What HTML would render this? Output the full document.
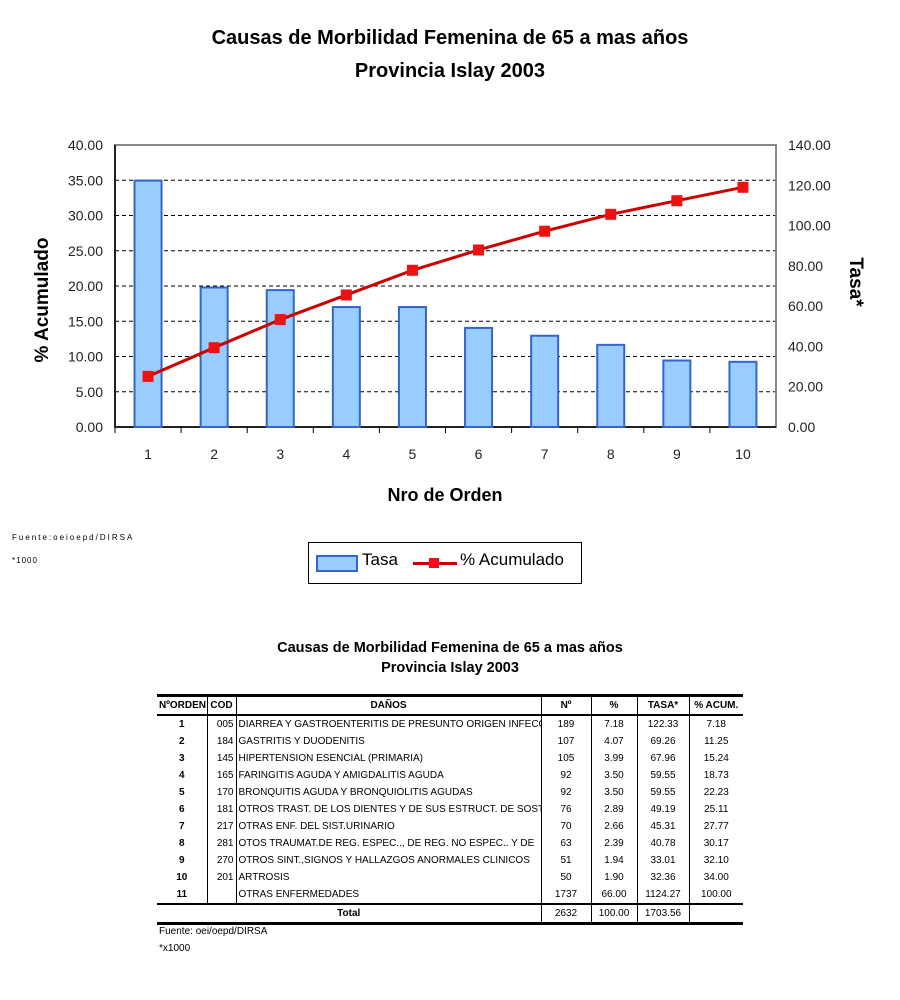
<!DOCTYPE html>
<html><head><meta charset="utf-8"><style>
body{margin:0;width:900px;height:1000px;background:#fff;position:relative;font-family:"Liberation Sans",Arial,sans-serif;overflow:hidden}
.t{position:absolute;white-space:nowrap}
table{position:absolute;left:157px;top:694px;width:586px;border-collapse:collapse;font-size:10px;table-layout:fixed}
td{height:17px;padding:0;padding-left:2px;padding-right:2px;line-height:16px;white-space:nowrap;overflow:hidden}
.b{border-left:1px solid #000}
.r{text-align:right}.c{text-align:center}
</style></head><body>
<div class="t" style="left:0;width:900px;text-align:center;top:27px;font-size:20px;font-weight:bold">Causas de Morbilidad Femenina de 65 a mas años</div>
<div class="t" style="left:0;width:900px;text-align:center;top:60px;font-size:20px;font-weight:bold">Provincia Islay 2003</div>
<svg id="chart" width="900" height="520" style="position:absolute;left:0;top:0"></svg>
<div class="t" style="left:12px;top:533px;font-size:8px;letter-spacing:2px">Fuente:oeioepd/DIRSA</div>
<div class="t" style="left:12px;top:556px;font-size:8px;letter-spacing:1px">*1000</div>
<div style="position:absolute;left:308px;top:542px;width:272px;height:40px;border:1px solid #000">
 <div style="position:absolute;left:7px;top:12px;width:38px;height:13px;background:#99ccff;border:2px solid #3366cc"></div>
 <div class="t" style="left:53px;top:7px;font-size:17px">Tasa</div>
 <div style="position:absolute;left:104px;top:19px;width:44px;height:3px;background:#cc0000"></div>
 <div style="position:absolute;left:120px;top:15px;width:10px;height:10px;background:#ee1111"></div>
 <div class="t" style="left:151px;top:7px;font-size:17px">% Acumulado</div>
</div>
<div class="t" style="left:0;width:900px;text-align:center;top:640px;font-size:14.5px;font-weight:bold">Causas de Morbilidad Femenina de 65 a mas años</div>
<div class="t" style="left:0;width:900px;text-align:center;top:660px;font-size:14.5px;font-weight:bold">Provincia Islay 2003</div>
<table id="tbl">
<colgroup><col style="width:50px"><col style="width:29px"><col style="width:305px"><col style="width:50px"><col style="width:46px"><col style="width:52px"><col style="width:54px"></colgroup>
<tr style="font-weight:bold;border-top:3px solid #000;border-bottom:2px solid #000"><td class="c">NºORDEN</td><td class="b c">COD</td><td class="b c">DAÑOS</td><td class="b c">Nº</td><td class="b c">%</td><td class="b c">TASA*</td><td class="b c">% ACUM.</td></tr>
</table>
<div class="t" style="left:159px;top:926px;font-size:10px">Fuente: oei/oepd/DIRSA</div>
<div class="t" style="left:159px;top:943px;font-size:10px">*x1000</div>
<script>
const categories=["1","2","3","4","5","6","7","8","9","10"];
const tasa=[122.33,69.26,67.96,59.55,59.55,49.19,45.31,40.78,33.01,32.36];
const acum=[7.18,11.25,15.24,18.73,22.23,25.11,27.77,30.17,32.10,34.00];
const leftTicks=[0,5,10,15,20,25,30,35,40];
const rightTicks=[0,20,40,60,80,100,120,140];
const codes=["005","184","145","165","170","181","217","281","270","201",""];
const danos=["DIARREA Y GASTROENTERITIS DE PRESUNTO ORIGEN INFECCIOSO","GASTRITIS Y DUODENITIS","HIPERTENSION ESENCIAL (PRIMARIA)","FARINGITIS AGUDA Y AMIGDALITIS AGUDA","BRONQUITIS AGUDA Y BRONQUIOLITIS AGUDAS","OTROS TRAST. DE LOS DIENTES Y DE SUS ESTRUCT. DE SOSTEN","OTRAS ENF. DEL SIST.URINARIO","OTOS TRAUMAT.DE REG. ESPEC.., DE REG. NO ESPEC.. Y DE","OTROS SINT.,SIGNOS Y HALLAZGOS ANORMALES CLINICOS","ARTROSIS","OTRAS ENFERMEDADES"];
const counts=[189,107,105,92,92,76,70,63,51,50,1737];
const pcts=["7.18","4.07","3.99","3.50","3.50","2.89","2.66","2.39","1.94","1.90","66.00"];
const tasas=["122.33","69.26","67.96","59.55","59.55","49.19","45.31","40.78","33.01","32.36","1124.27"];
const acums=["7.18","11.25","15.24","18.73","22.23","25.11","27.77","30.17","32.10","34.00","100.00"];
const NS="http://www.w3.org/2000/svg";
const svg=document.getElementById('chart');
const L=115,R=776,T=145,B=427;
const yL=v=>B-(v/40)*(B-T), yR=v=>B-(v/140)*(B-T);
const step=(R-L)/categories.length, xc=i=>L+step*(i+0.5);
function mk(tag,a,txt){const e=document.createElementNS(NS,tag);for(const k in a)e.setAttribute(k,a[k]);if(txt!=null)e.textContent=txt;svg.appendChild(e);return e;}
leftTicks.forEach(v=>{if(v>0&&v<40){const g=mk('line',{x1:L,x2:R,y1:yL(v),y2:yL(v),stroke:'#000','stroke-dasharray':'4,3'});

}
const t=mk('text',{x:103,y:yL(v)+5,'text-anchor':'end','font-size':14,fill:'#222'},v.toFixed(2));

});
rightTicks.forEach(v=>{const t=mk('text',{x:788,y:yR(v)+5,'font-size':14,fill:'#222'},v.toFixed(2));

});
const frame=mk('rect',{x:L,y:T,width:R-L,height:B-T,fill:'none',stroke:'#888','stroke-width':2});


mk('line',{x1:L,x2:L,y1:T,y2:B,stroke:'#000','stroke-width':1.5});
mk('line',{x1:L,x2:R,y1:B,y2:B,stroke:'#000','stroke-width':1.5});
categories.forEach((c,i)=>{const b=mk('rect',{x:xc(i)-13.5,y:yR(tasa[i]),width:27,height:B-yR(tasa[i]),fill:'#99ccff',stroke:'#3366cc','stroke-width':2});


mk('line',{x1:L+step*i,x2:L+step*i,y1:B,y2:B+6,stroke:'#000'});
const t=mk('text',{x:xc(i),y:B+32,'text-anchor':'middle','font-size':14,fill:'#222'},c);

});
const line=mk('polyline',{points:acum.map((v,i)=>xc(i)+','+yL(v)).join(' '),fill:'none',stroke:'#cc0000','stroke-width':3});


acum.forEach((v,i)=>{const m=mk('rect',{x:xc(i)-5.5,y:yL(v)-5.5,width:11,height:11,fill:'#ee1111'});

});
const xt=mk('text',{x:445,y:501,'text-anchor':'middle','font-size':18,'font-weight':'bold'},'Nro de Orden');


const yt=mk('text',{x:0,y:0,transform:'translate(48,300) rotate(-90)','text-anchor':'middle','font-size':19,'font-weight':'bold'},'% Acumulado');


const y2=mk('text',{x:0,y:0,transform:'translate(850,282) rotate(90)','text-anchor':'middle','font-size':19,'font-weight':'bold'},'Tasa*');


const tb=document.getElementById('tbl');
for(let i=0;i<11;i++){const tr=document.createElement('tr');


tr.innerHTML=`<td class="c" style="font-weight:bold">${i+1}</td><td class="b r">${codes[i]}</td><td class="b" style="text-overflow:clip">${danos[i]}</td><td class="b c">${counts[i]}</td><td class="b c">${pcts[i]}</td><td class="b c">${tasas[i]}</td><td class="b c">${acums[i]}</td>`;
tb.appendChild(tr);}
const tot=document.createElement('tr');


tot.style.borderTop='2px solid #000';tot.style.borderBottom='3px solid #000';
tot.innerHTML=`<td colspan="3" class="c" style="font-weight:bold">Total</td><td class="b c">2632</td><td class="b c">100.00</td><td class="b c">1703.56</td><td class="b"></td>`;
tb.appendChild(tot);
</script>
</body></html>
